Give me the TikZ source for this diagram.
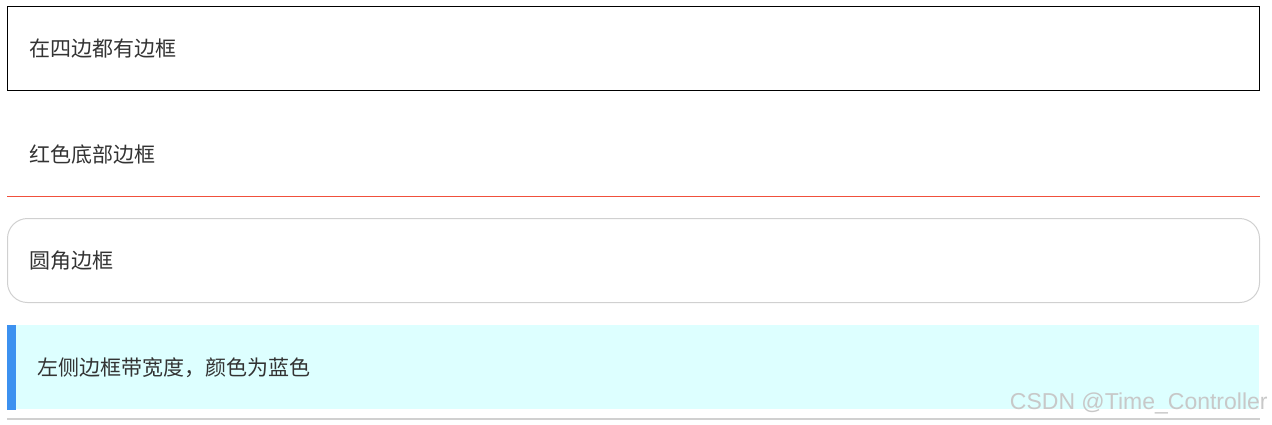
\documentclass[tikz,border=0pt]{standalone}
\usepackage{fontspec}
\setmainfont{Noto Sans CJK SC}
\newfontfamily\wmfont{Liberation Sans}
\usetikzlibrary{positioning}
\definecolor{ink}{RGB}{51,51,51}
\definecolor{redline}{RGB}{240,80,60}
\definecolor{softgray}{RGB}{208,208,208}
\definecolor{cyanfill}{RGB}{221,255,255}
\definecolor{barblue}{RGB}{60,145,240}
\definecolor{wmgray}{RGB}{200,200,200}
\tikzset{
  box/.style={anchor=north west,minimum width=626pt,minimum height=42pt,
    inner xsep=11pt,inner ysep=0pt,text width=604pt,align=left,
    font=\fontsize{10.5pt}{12pt}\selectfont,text=ink},
  frame/.style={box,draw=black,line width=0.5pt},
  underline/.style={box},
  roundbox/.style={box,draw=softgray,line width=0.5pt,rounded corners=10pt},
  notebox/.style={box,fill=cyanfill,minimum width=621.5pt,text width=600.5pt,inner xsep=10.5pt},
}
\begin{document}
\begin{tikzpicture}[x=0.5pt,y=-0.5pt]
\useasboundingbox (0,0) rectangle (1272,424);
% four boxes
\node[frame] (all) at (7,6) {在四边都有边框};
\node[underline] (bottom) at (7,112) {红色底部边框};
\draw[redline,line width=0.5pt] (bottom.south west) -- (bottom.south east);
\node[roundbox] (round) at (7,218) {圆角边框};
\node[notebox] (left) at (16,325) {左侧边框带宽度，颜色为蓝色};
\fill[barblue] (left.north west) rectangle ([xshift=-4.5pt]left.south west);
\draw[softgray,line width=1pt] ([xshift=-4.5pt,yshift=-4.5pt]left.south west) -- ([yshift=-4.5pt]left.south east);
% watermark
\node[anchor=south east,font=\wmfont\fontsize{11.5pt}{13pt}\selectfont,text=wmgray,inner sep=0pt] (mark) at (1268,414) {CSDN @Time\_Controller};
\end{tikzpicture}
\end{document}
